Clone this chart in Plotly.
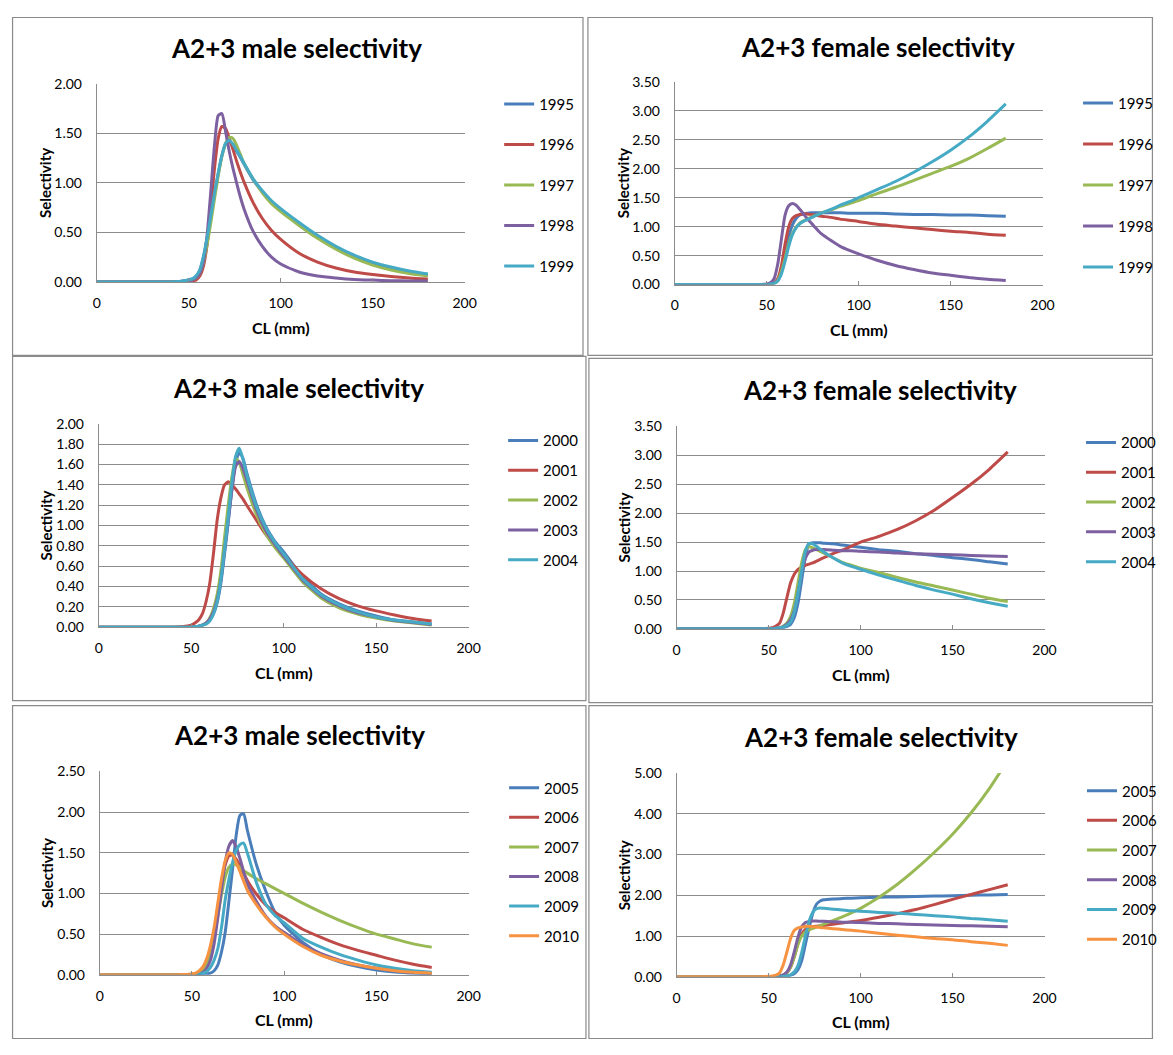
import plotly.graph_objects as go

# page is rendered with the browser's default 8px body margin -> figure is page size minus 16
W, H = 1173, 1055
OFF = 8
FW, FH = W - 2 * OFF, H - 2 * OFF
FONT = "Lato"

# ---------------- data ----------------
cl = [0, 40, 45, 50, 52, 54, 56, 58, 60, 62, 64, 66, 68, 70, 72, 74, 76, 78, 80,
      85, 90, 95, 100, 110, 120, 130, 140, 150, 160, 170, 180]

years_a = ["1995", "1996", "1997", "1998", "1999"]
years_b = ["2000", "2001", "2002", "2003", "2004"]
years_c = ["2005", "2006", "2007", "2008", "2009", "2010"]

# male 1995-1999
m1995 = [0, 0, 0.005, 0.02, 0.03, 0.06, 0.12, 0.25, 0.44, 0.66, 0.89, 1.09, 1.27, 1.39, 1.42, 1.38, 1.32, 1.26, 1.19, 1.03, 0.91, 0.81, 0.73, 0.59, 0.46, 0.35, 0.26, 0.19, 0.14, 0.10, 0.075]
m1996 = [0, 0, 0, 0, 0.01, 0.02, 0.06, 0.16, 0.38, 0.75, 1.15, 1.45, 1.57, 1.55, 1.45, 1.34, 1.22, 1.11, 1.01, 0.80, 0.64, 0.52, 0.43, 0.29, 0.20, 0.14, 0.10, 0.075, 0.055, 0.04, 0.03]
m1997 = [0, 0, 0, 0.01, 0.02, 0.04, 0.09, 0.20, 0.38, 0.60, 0.84, 1.07, 1.27, 1.40, 1.46, 1.45, 1.38, 1.29, 1.20, 1.04, 0.90, 0.79, 0.71, 0.57, 0.44, 0.33, 0.24, 0.17, 0.12, 0.085, 0.06]
m1998 = [0, 0, 0, 0.01, 0.02, 0.04, 0.09, 0.21, 0.48, 0.92, 1.38, 1.68, 1.70, 1.52, 1.32, 1.15, 1.00, 0.86, 0.74, 0.51, 0.36, 0.25, 0.18, 0.10, 0.06, 0.04, 0.025, 0.018, 0.012, 0.01, 0.008]
m1999 = [0, 0, 0.005, 0.02, 0.03, 0.06, 0.12, 0.26, 0.45, 0.67, 0.90, 1.10, 1.28, 1.40, 1.43, 1.39, 1.33, 1.27, 1.20, 1.04, 0.92, 0.82, 0.74, 0.60, 0.47, 0.36, 0.27, 0.20, 0.15, 0.11, 0.08]

# female 1995-1999
f1995 = [0, 0, 0, 0, 0.01, 0.02, 0.07, 0.22, 0.50, 0.82, 1.03, 1.14, 1.20, 1.22, 1.23, 1.24, 1.24, 1.24, 1.24, 1.24, 1.24, 1.23, 1.23, 1.23, 1.22, 1.21, 1.21, 1.20, 1.20, 1.19, 1.18]
f1996 = [0, 0, 0, 0, 0.01, 0.03, 0.10, 0.32, 0.70, 1.00, 1.14, 1.19, 1.21, 1.22, 1.22, 1.21, 1.20, 1.19, 1.18, 1.16, 1.13, 1.11, 1.09, 1.04, 1.01, 0.98, 0.95, 0.92, 0.90, 0.87, 0.85]
f1997 = [0, 0, 0, 0, 0.01, 0.02, 0.07, 0.22, 0.45, 0.70, 0.88, 0.99, 1.06, 1.10, 1.13, 1.16, 1.19, 1.21, 1.24, 1.29, 1.35, 1.40, 1.45, 1.57, 1.68, 1.80, 1.92, 2.04, 2.18, 2.35, 2.53]
f1998 = [0, 0, 0, 0.01, 0.03, 0.10, 0.35, 0.78, 1.20, 1.36, 1.40, 1.37, 1.30, 1.22, 1.14, 1.07, 1.00, 0.93, 0.87, 0.76, 0.66, 0.59, 0.53, 0.42, 0.33, 0.26, 0.20, 0.16, 0.12, 0.09, 0.07]
f1999 = [0, 0, 0, 0, 0.01, 0.02, 0.06, 0.18, 0.40, 0.66, 0.86, 0.98, 1.05, 1.09, 1.12, 1.15, 1.18, 1.21, 1.24, 1.30, 1.37, 1.43, 1.50, 1.64, 1.78, 1.94, 2.12, 2.32, 2.55, 2.82, 3.12]

# male 2000-2004
m2000 = [0, 0, 0, 0, 0.005, 0.01, 0.02, 0.04, 0.07, 0.13, 0.24, 0.43, 0.72, 1.03, 1.36, 1.62, 1.72, 1.66, 1.52, 1.22, 1.00, 0.85, 0.74, 0.50, 0.33, 0.23, 0.16, 0.11, 0.07, 0.05, 0.03]
m2001 = [0, 0, 0.005, 0.02, 0.04, 0.07, 0.13, 0.25, 0.43, 0.72, 1.05, 1.27, 1.40, 1.43, 1.40, 1.36, 1.31, 1.26, 1.20, 1.06, 0.92, 0.81, 0.71, 0.52, 0.38, 0.28, 0.21, 0.16, 0.12, 0.085, 0.06]
m2002 = [0, 0, 0, 0, 0.005, 0.01, 0.02, 0.04, 0.09, 0.18, 0.32, 0.55, 0.88, 1.20, 1.48, 1.66, 1.62, 1.50, 1.38, 1.12, 0.93, 0.79, 0.68, 0.45, 0.29, 0.19, 0.13, 0.09, 0.06, 0.04, 0.02]
m2003 = [0, 0, 0, 0, 0.005, 0.01, 0.02, 0.04, 0.08, 0.15, 0.27, 0.46, 0.75, 1.05, 1.35, 1.58, 1.63, 1.56, 1.45, 1.17, 0.96, 0.82, 0.70, 0.47, 0.31, 0.21, 0.14, 0.10, 0.065, 0.045, 0.025]
m2004 = [0, 0, 0, 0, 0.005, 0.01, 0.02, 0.03, 0.06, 0.13, 0.25, 0.46, 0.76, 1.08, 1.42, 1.68, 1.76, 1.65, 1.50, 1.20, 0.99, 0.84, 0.72, 0.48, 0.32, 0.22, 0.15, 0.10, 0.07, 0.05, 0.03]

# female 2000-2004
f2000 = [0, 0, 0, 0, 0, 0.005, 0.01, 0.02, 0.04, 0.08, 0.20, 0.45, 0.85, 1.25, 1.47, 1.49, 1.49, 1.49, 1.48, 1.47, 1.45, 1.43, 1.41, 1.37, 1.34, 1.30, 1.27, 1.23, 1.20, 1.16, 1.12]
f2001 = [0, 0, 0, 0.01, 0.02, 0.05, 0.10, 0.28, 0.55, 0.80, 0.95, 1.03, 1.07, 1.10, 1.12, 1.14, 1.17, 1.20, 1.23, 1.30, 1.36, 1.43, 1.50, 1.60, 1.72, 1.87, 2.05, 2.27, 2.50, 2.76, 3.06]
f2002 = [0, 0, 0, 0, 0, 0.01, 0.02, 0.05, 0.10, 0.22, 0.45, 0.80, 1.15, 1.37, 1.42, 1.40, 1.37, 1.34, 1.31, 1.23, 1.15, 1.10, 1.05, 0.97, 0.89, 0.81, 0.74, 0.67, 0.60, 0.53, 0.47]
f2003 = [0, 0, 0, 0, 0, 0.01, 0.02, 0.04, 0.08, 0.16, 0.32, 0.62, 0.98, 1.22, 1.33, 1.36, 1.37, 1.37, 1.37, 1.36, 1.35, 1.35, 1.34, 1.33, 1.31, 1.30, 1.29, 1.28, 1.27, 1.26, 1.25]
f2004 = [0, 0, 0, 0, 0, 0.01, 0.02, 0.03, 0.06, 0.12, 0.30, 0.62, 1.00, 1.35, 1.48, 1.47, 1.43, 1.38, 1.33, 1.23, 1.14, 1.08, 1.03, 0.93, 0.84, 0.75, 0.67, 0.60, 0.52, 0.45, 0.39]

# male 2005-2010
m2005 = [0, 0, 0, 0, 0, 0, 0.005, 0.01, 0.02, 0.05, 0.12, 0.28, 0.52, 0.90, 1.30, 1.72, 1.96, 1.98, 1.78, 1.35, 1.03, 0.77, 0.61, 0.40, 0.25, 0.16, 0.10, 0.06, 0.035, 0.02, 0.01]
m2006 = [0, 0, 0, 0.005, 0.01, 0.03, 0.07, 0.15, 0.30, 0.52, 0.82, 1.12, 1.35, 1.46, 1.47, 1.42, 1.34, 1.25, 1.16, 0.99, 0.86, 0.77, 0.70, 0.56, 0.46, 0.37, 0.30, 0.24, 0.18, 0.13, 0.09]
m2007 = [0, 0, 0, 0.005, 0.01, 0.03, 0.06, 0.13, 0.26, 0.45, 0.72, 0.98, 1.20, 1.32, 1.36, 1.35, 1.32, 1.28, 1.25, 1.18, 1.12, 1.06, 1.00, 0.88, 0.77, 0.67, 0.58, 0.50, 0.44, 0.38, 0.34]
m2008 = [0, 0, 0, 0, 0.005, 0.01, 0.03, 0.08, 0.18, 0.38, 0.70, 1.05, 1.38, 1.58, 1.65, 1.57, 1.43, 1.27, 1.12, 0.90, 0.72, 0.60, 0.52, 0.37, 0.26, 0.18, 0.12, 0.08, 0.05, 0.03, 0.02]
m2009 = [0, 0, 0, 0, 0.005, 0.01, 0.02, 0.04, 0.09, 0.18, 0.32, 0.58, 0.92, 1.17, 1.38, 1.53, 1.60, 1.62, 1.50, 1.13, 0.87, 0.73, 0.64, 0.45, 0.34, 0.25, 0.18, 0.12, 0.08, 0.05, 0.03]
m2010 = [0, 0, 0.002, 0.01, 0.02, 0.05, 0.10, 0.20, 0.36, 0.58, 0.88, 1.18, 1.40, 1.50, 1.48, 1.38, 1.27, 1.15, 1.04, 0.86, 0.71, 0.59, 0.50, 0.35, 0.24, 0.17, 0.12, 0.08, 0.05, 0.03, 0.02]

# female 2005-2010
f2005 = [0, 0, 0, 0, 0, 0, 0, 0.01, 0.02, 0.04, 0.08, 0.18, 0.40, 0.80, 1.20, 1.56, 1.78, 1.86, 1.89, 1.91, 1.92, 1.93, 1.94, 1.95, 1.96, 1.97, 1.98, 1.99, 2.00, 2.01, 2.02]
f2006 = [0, 0, 0, 0, 0.005, 0.01, 0.02, 0.04, 0.10, 0.24, 0.50, 0.82, 1.05, 1.16, 1.21, 1.23, 1.24, 1.25, 1.26, 1.29, 1.32, 1.35, 1.38, 1.46, 1.55, 1.65, 1.77, 1.90, 2.02, 2.14, 2.26]
f2007 = [0, 0, 0, 0, 0.005, 0.01, 0.02, 0.04, 0.10, 0.24, 0.50, 0.80, 1.00, 1.10, 1.15, 1.19, 1.22, 1.25, 1.29, 1.38, 1.47, 1.57, 1.68, 1.95, 2.27, 2.64, 3.05, 3.50, 4.02, 4.62, 5.32]
f2008 = [0, 0, 0, 0, 0.005, 0.01, 0.02, 0.05, 0.12, 0.30, 0.62, 0.98, 1.23, 1.33, 1.36, 1.37, 1.37, 1.36, 1.36, 1.35, 1.34, 1.34, 1.33, 1.31, 1.30, 1.28, 1.27, 1.26, 1.25, 1.24, 1.23]
f2009 = [0, 0, 0, 0, 0, 0, 0, 0.01, 0.02, 0.05, 0.12, 0.28, 0.60, 1.00, 1.36, 1.58, 1.67, 1.69, 1.68, 1.66, 1.64, 1.62, 1.61, 1.58, 1.56, 1.53, 1.50, 1.47, 1.43, 1.40, 1.36]
f2010 = [0, 0, 0, 0.01, 0.02, 0.04, 0.10, 0.30, 0.62, 0.95, 1.14, 1.20, 1.22, 1.24, 1.24, 1.23, 1.22, 1.21, 1.20, 1.18, 1.16, 1.14, 1.12, 1.07, 1.02, 0.98, 0.94, 0.91, 0.86, 0.82, 0.77]

# ---------------- styling ----------------
COLORS = ["#4A7EBB", "#BE4B48", "#98B954", "#7D60A0", "#46AAC5", "#F69240"]
GRID = "#8C8C8C"


def PX(p):
    return min(max((p - OFF) / FW, 0.0005), 0.9995)


def PY(p):
    return min(max(1 - (p - OFF) / FH, 0.0005), 0.9995)


panels = [
    dict(title="A2+3 male selectivity", years=years_a, series=[m1995, m1996, m1997, m1998, m1999],
         px=(94, 467), py=(76, 277.3), ymax=2.0, dtick=0.5, box=(5, 7, 587, 352),
         tcx=296, tcy=40, ytx=41.5, xty=324, leg=(502, 80, 18)),
    dict(title="A2+3 female selectivity", years=years_a, series=[f1995, f1996, f1997, f1998, f1999],
         px=(680, 1053), py=(74, 280), ymax=3.5, dtick=0.5, box=(592, 6, 1172, 352),
         tcx=886, tcy=38, ytx=627.5, xty=326, leg=(1089, 79, 18.5)),
    dict(title="A2+3 male selectivity", years=years_b, series=[m2000, m2001, m2002, m2003, m2004],
         px=(96, 471), py=(421.7, 628.3), ymax=2.0, dtick=0.2, box=(7, 353, 590, 703),
         tcx=299, tcy=385, ytx=42.5, xty=674, leg=(506, 422, 7.3)),
    dict(title="A2+3 female selectivity", years=years_b, series=[f2000, f2001, f2002, f2003, f2004],
         px=(682, 1055), py=(424.3, 630), ymax=3.5, dtick=0.5, box=(593, 355, 1172, 705),
         tcx=888, tcy=387, ytx=628.5, xty=676, leg=(1092, 424, 7.3)),
    dict(title="A2+3 male selectivity", years=years_c, series=[m2005, m2006, m2007, m2008, m2009, m2010],
         px=(97, 471), py=(775, 981.7), ymax=2.5, dtick=0.5, box=(5, 708, 590, 1054),
         tcx=300, tcy=738, ytx=43.5, xty=1027, leg=(507, 775, 7.1)),
    dict(title="A2+3 female selectivity", years=years_c, series=[f2005, f2006, f2007, f2008, f2009, f2010],
         px=(682, 1055), py=(776.7, 983.7), ymax=5.0, dtick=1.0, box=(593, 708, 1172, 1054),
         tcx=889, tcy=740, ytx=629, xty=1029, leg=(1093, 778, 7.2)),
]

fig = go.Figure()
layout = dict(
    width=FW, height=FH, margin=dict(l=0, r=0, t=0, b=0),
    paper_bgcolor="white", plot_bgcolor="white",
    font=dict(family=FONT, size=14, color="#000000"),
    shapes=[], annotations=[],
)

for i, p in enumerate(panels):
    n = "" if i == 0 else str(i + 1)
    xa, ya = "x" + n, "y" + n
    legname = "legend" + n
    for k, (yr, vals) in enumerate(zip(p["years"], p["series"])):
        fig.add_trace(go.Scatter(
            x=cl, y=vals, name=yr, mode="lines",
            line=dict(color=COLORS[k], width=3, shape="spline", smoothing=0.6),
            xaxis=xa, yaxis=ya, legend=legname, legendgroup=f"g{i}_{k}",
            hoverinfo="x+y+name",
        ))
    layout["xaxis" + n] = dict(
        domain=[PX(p["px"][0]), PX(p["px"][1])], anchor=ya, range=[0, 200],
        tick0=0, dtick=50, showgrid=False, zeroline=False,
        showline=True, linecolor=GRID, linewidth=1,
        ticks="inside", ticklen=4, tickcolor=GRID,
        tickfont=dict(family=FONT, size=14, color="#000"), ticklabelstandoff=8,
    )
    layout["yaxis" + n] = dict(
        domain=[PY(p["py"][1]), PY(p["py"][0])], anchor=xa, range=[0, p["ymax"]],
        tick0=0, dtick=p["dtick"], tickformat=".2f", showgrid=True, gridcolor=GRID,
        gridwidth=1, zeroline=False, showline=True, linecolor=GRID, linewidth=1,
        ticks="", tickfont=dict(family=FONT, size=14, color="#000"), ticklabelstandoff=11,
    )
    lx, ly, gap = p["leg"]
    layout[legname] = dict(
        x=PX(lx), y=PY(ly), xanchor="left", yanchor="top", xref="paper", yref="paper",
        font=dict(family=FONT, size=15, color="#000"), tracegroupgap=gap,
        bgcolor="rgba(0,0,0,0)", borderwidth=0, itemwidth=30,
    )
    bx0, by0, bx1, by1 = p["box"]
    layout["shapes"].append(dict(
        type="rect", xref="paper", yref="paper",
        x0=PX(bx0), x1=PX(bx1), y0=PY(by1), y1=PY(by0),
        line=dict(color="#8A8A8A", width=1.2), fillcolor="rgba(0,0,0,0)",
    ))
    layout["annotations"].append(dict(
        text="<b>" + p["title"] + "</b>", x=PX(p["tcx"]), y=PY(p["tcy"]),
        xref="paper", yref="paper", xanchor="center", yanchor="middle", showarrow=False,
        font=dict(family=FONT, size=26, color="#000"),
    ))
    layout["annotations"].append(dict(
        text="<b>Selectivity</b>", x=PX(p["ytx"]), y=PY((p["py"][0] + p["py"][1]) / 2),
        xref="paper", yref="paper", xanchor="center", yanchor="middle", showarrow=False,
        textangle=-90, font=dict(family=FONT, size=15, color="#000"),
    ))
    layout["annotations"].append(dict(
        text="<b>CL (mm)</b>", x=PX((p["px"][0] + p["px"][1]) / 2), y=PY(p["xty"]),
        xref="paper", yref="paper", xanchor="center", yanchor="middle", showarrow=False,
        font=dict(family=FONT, size=16, color="#000"),
    ))

fig.update_layout(**layout)
fig.write_html("out.html", config={"displayModeBar": False})
